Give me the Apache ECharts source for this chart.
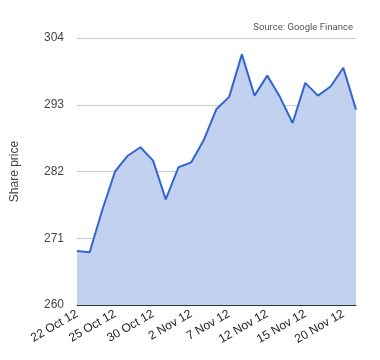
<!DOCTYPE html>
<html><head><meta charset="utf-8">
<script src="https://cdn.jsdelivr.net/npm/echarts@6/dist/echarts.min.js"></script>
<style>html,body{margin:0;padding:0;background:#fff}#c{width:380px;height:360px}</style>
</head><body><div id="c"></div>
<script>
const categories = ['22 Oct 12','23 Oct 12','24 Oct 12','25 Oct 12','26 Oct 12','29 Oct 12','30 Oct 12','31 Oct 12','1 Nov 12','2 Nov 12','5 Nov 12','6 Nov 12','7 Nov 12','8 Nov 12','9 Nov 12','12 Nov 12','13 Nov 12','14 Nov 12','15 Nov 12','16 Nov 12','19 Nov 12','20 Nov 12','21 Nov 12'];
const prices = [268.9,268.7,275.7,282.0,284.6,286.0,283.8,277.4,282.7,283.5,287.2,292.3,294.3,301.3,294.5,297.8,294.3,290.0,296.6,294.5,296.0,299.1,292.2];
const yTicks = [260,271,282,293,304];
const chart = echarts.init(document.getElementById('c'));
chart.setOption({
  animation:false,
  grid:{left:77,right:24,top:38,bottom:55,containLabel:false},
  graphic:[{type:'text',right:27,top:23,style:{text:'Source: Google Finance',font:'9.5px Roboto, "Liberation Sans", Arial',fill:'#555'}}],
  xAxis:{type:'category',data:categories,boundaryGap:false,
    axisLine:{lineStyle:{color:'#333',width:1}},axisTick:{show:false},
    axisLabel:{interval:2,rotate:30,color:'#222',fontSize:12,fontFamily:'"Liberation Sans", Arial',margin:8},
    splitLine:{show:false}},
  yAxis:{type:'value',min:yTicks[0],max:yTicks[yTicks.length-1],interval:11,
    name:'Share price',nameLocation:'middle',nameGap:56,nameRotate:90,
    nameTextStyle:{color:'#444',fontSize:12,fontFamily:'"Liberation Sans", Arial'},
    axisLine:{show:false},axisTick:{show:false},
    axisLabel:{color:'#444',fontSize:12,fontFamily:'"Liberation Sans", Arial',margin:13},
    splitLine:{lineStyle:{color:'#ccc',width:1}}},
  series:[{type:'line',data:prices,symbol:'none',
    lineStyle:{color:'#3366cc',width:2},
    areaStyle:{color:'#c2d1f0',opacity:1}}]
});
</script></body></html>
